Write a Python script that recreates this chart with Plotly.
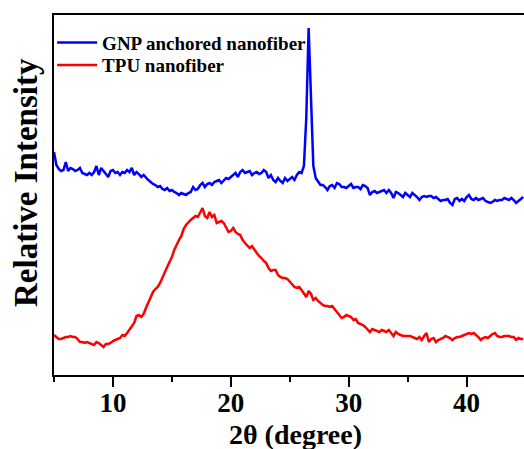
import plotly.graph_objects as go

# ---- data ----
two_theta_start = 5.0
two_theta_step = 0.2

gnp_intensity = [
    223, 210, 206, 204, 205, 213, 204, 207, 206, 204,
    205, 207, 202, 201, 200, 202, 200, 203, 209, 200,
    207, 204, 201, 198, 204, 205, 202, 203, 200, 203,
    202, 205, 203, 207, 200, 203, 201, 198, 200, 197,
    195, 193, 191, 190, 188, 189, 186, 185, 187, 184,
    185, 183, 182, 180, 182, 181, 180, 182, 183, 188,
    185, 186, 190, 192, 188, 191, 192, 190, 193, 194,
    195, 192, 195, 197, 196, 198, 200, 202, 198, 203,
    205, 202, 203, 204, 200, 202, 203, 201, 202, 205,
    203, 197, 200, 195, 193, 197, 194, 192, 197, 194,
    196, 198, 195, 200, 203, 202, 209, 257, 347, 275,
    209, 197, 193, 190, 190, 188, 185, 189, 190, 187,
    192, 191, 188, 188, 187, 189, 191, 187, 188, 188,
    186, 190, 189, 187, 180, 183, 184, 182, 183, 184,
    185, 182, 185, 182, 177, 183, 182, 180, 178, 182,
    180, 178, 182, 180, 178, 175, 178, 179, 178, 179,
    179, 177, 178, 176, 174, 175, 175, 176, 172, 170,
    176, 177, 174, 176, 174, 178, 180, 176, 175, 177,
    175, 176, 177, 174, 173, 172, 173, 175, 174, 175,
    175, 177, 176, 175, 177, 175, 172, 174, 176, 178,
]

tpu_intensity = [
    40, 38, 36, 36, 37, 38, 38, 39, 38, 38,
    36, 33, 33, 32, 33, 32, 31, 30, 33, 32,
    30, 28, 31, 31, 32, 34, 35, 36, 37, 40,
    39, 42, 45, 49, 52, 59, 60, 58, 61, 67,
    72, 77, 83, 86, 88, 92, 98, 103, 108, 113,
    118, 125, 131, 135, 139, 146, 150, 153, 155, 157,
    159, 158, 162, 167, 159, 157, 163, 158, 160, 152,
    153, 154, 152, 148, 143, 144, 147, 143, 141, 140,
    135, 132, 129, 127, 129, 125, 122, 119, 117, 114,
    112, 107, 104, 105, 105, 100, 98, 97, 97, 96,
    93, 90, 88, 87, 88, 85, 82, 78, 84, 81,
    75, 77, 74, 72, 70, 69, 69, 68, 69, 66,
    63, 60, 57, 58, 60, 59, 58, 55, 56, 52,
    51, 50, 48, 45, 43, 46, 45, 44, 43, 45,
    44, 43, 45, 42, 39, 43, 41, 40, 39, 39,
    39, 39, 38, 37, 36, 38, 35, 39, 42, 33,
    36, 37, 33, 35, 36, 37, 39, 38, 37, 35,
    37, 38, 38, 39, 40, 41, 42, 41, 42, 40,
    38, 35, 37, 38, 37, 39, 41, 42, 39, 38,
    38, 39, 39, 39, 38, 38, 35, 37, 36, 36,
]

series_names = ["GNP anchored nanofiber", "TPU nanofiber"]
x_tick_values = [10, 20, 30, 40]
x_tick_labels = ["10", "20", "30", "40"]
x_title = "2θ (degree)"
y_title = "Relative Intensity"

FONT = "Liberation Serif, Times New Roman, serif"
legend_font = dict(family=FONT, size=19, color="black", weight="bold")

fig = go.Figure()
fig.add_trace(go.Scatter(
    y=gnp_intensity, x0=two_theta_start, dx=two_theta_step,
    mode="lines", name=series_names[0], legend="legend",
    line=dict(color="#0000ff", width=2.5),
))
fig.add_trace(go.Scatter(
    y=tpu_intensity, x0=two_theta_start, dx=two_theta_step,
    mode="lines", name=series_names[1], legend="legend2",
    line=dict(color="#ff0000", width=2.5),
))

fig.update_layout(
    width=524, height=449,
    margin=dict(l=54, r=0, t=15, b=74),
    paper_bgcolor="white", plot_bgcolor="white",
    showlegend=True,
    legend=dict(
        x=-0.004, y=0.923, xanchor="left", yanchor="middle",
        bgcolor="rgba(0,0,0,0)", borderwidth=0,
        font=legend_font, itemwidth=40,
    ),
    legend2=dict(
        x=-0.004, y=0.861, xanchor="left", yanchor="middle",
        bgcolor="rgba(0,0,0,0)", borderwidth=0,
        font=legend_font, itemwidth=40,
    ),
    annotations=[
        dict(text=x_title, xref="x", yref="paper", x=25.5, y=0, yshift=-59,
             showarrow=False, xanchor="center", yanchor="middle",
             font=dict(family=FONT, size=28, color="black", weight="bold")),
        dict(text=y_title, xref="paper", yref="paper", x=0, y=0.5, xshift=-28, yshift=12,
             textangle=-90, showarrow=False, xanchor="center", yanchor="middle",
             font=dict(family=FONT, size=33, color="black", weight="bold")),
    ],
)

fig.update_xaxes(
    range=[5, 44.87],
    showline=True, linecolor="black", linewidth=2, mirror=True,
    showgrid=False, zeroline=False,
    tickmode="array", tickvals=x_tick_values, ticktext=x_tick_labels,
    ticks="outside", ticklen=10, tickwidth=2, tickcolor="black",
    ticklabelstandoff=-7,
    tickfont=dict(family=FONT, size=27, color="black", weight="bold"),
    minor=dict(tickmode="linear", tick0=5, dtick=10, ticks="outside", ticklen=5,
               tickwidth=2, tickcolor="black", showgrid=False),
)
fig.update_yaxes(
    range=[0, 360],
    showline=True, linecolor="black", linewidth=2, mirror=False,
    showgrid=False, zeroline=False,
    ticks="", showticklabels=False,
)

fig.write_html(
    "out.html",
    config={"displayModeBar": False},
    post_script="document.body.style.margin='0';document.body.style.overflow='hidden';",
)
